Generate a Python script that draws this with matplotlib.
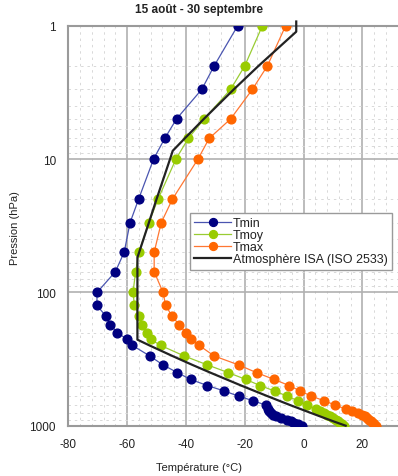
import matplotlib
matplotlib.use("Agg")
import matplotlib.pyplot as plt
from matplotlib.ticker import FixedLocator, MultipleLocator, LogLocator, NullFormatter

plt.rcParams['font.family'] = ['Liberation Sans', 'DejaVu Sans']
plt.rcParams['axes.unicode_minus'] = False

# Pressure levels (hPa)
levels = [1, 2, 3, 5, 7, 10, 20, 30, 50, 70, 100, 125, 150, 175, 200, 225, 250,
          300, 350, 400, 450, 500, 550, 600, 650, 700, 750, 775, 800, 825, 850,
          875, 900, 925, 950, 975, 1000]

# Temperatures (°C) per level
tmin = [-22.4, -30.4, -34.6, -43.2, -47.2, -51.0, -56.1, -59.0, -61.0, -64.0,
        -70.2, -70.3, -67.3, -65.8, -63.3, -60.1, -58.2, -52.3, -47.8, -42.9,
        -38.4, -32.7, -26.9, -22.1, -17.2, -12.9, -12.0, -11.6, -11.2, -10.4,
        -9.4, -7.6, -5.6, -4.3, -3.2, -1.9, -0.7]
tmoy = [-14.0, -20.0, -24.8, -33.8, -39.2, -43.4, -49.5, -52.6, -56.0, -57.1,
        -58.0, -57.5, -55.8, -54.8, -53.3, -52.0, -48.6, -40.6, -32.7, -25.6,
        -19.6, -14.8, -9.8, -5.6, -1.9, 1.2, 4.1, 5.5, 6.8, 8.0, 9.0, 10.0,
        10.9, 11.7, 12.4, 13.1, 13.8]
tmax = [-6.1, -12.3, -17.4, -24.8, -32.1, -35.9, -44.6, -48.4, -50.8, -50.8,
        -47.8, -46.9, -44.8, -42.3, -40.1, -38.4, -35.5, -30.4, -22.1, -16.0,
        -10.0, -4.9, -1.1, 2.6, 7.0, 10.7, 14.3, 16.5, 18.5, 19.8, 20.8, 21.6,
        22.4, 23.0, 23.6, 24.1, 24.5]

# International Standard Atmosphere (ISO 2533)
isa_p = [0.93, 1.109, 2, 3, 5, 7, 8.68, 10, 20, 30, 50, 54.75, 100, 150, 200,
         226.32, 250, 300, 350, 400, 500, 600, 700, 850, 925, 1000]
isa_t = [-2.5, -2.5, -15.3, -23.7, -33.9, -40.4, -44.5, -45.4, -50.0, -52.6,
         -55.9, -56.5, -56.5, -56.5, -56.5, -56.5, -52.4, -44.6, -37.8, -31.7,
         -21.2, -12.3, -4.6, 5.5, 10.0, 14.3]

x_ticks = [-80, -60, -40, -20, 0, 20]
y_ticks = [1, 10, 100, 1000]
y_tick_labels = ["1", "10", "100", "1000"]

fig = plt.figure(figsize=(3.98, 4.77), dpi=100)
ax = fig.add_axes([68.3 / 398, 1 - 426.7 / 477, 1 - 68.3 / 398, (426.7 - 26.7) / 477])

ax.set_yscale('log')
ax.set_xlim(-80, 32.1)
ax.set_ylim(1000, 1)

# Grid
ax.xaxis.set_major_locator(FixedLocator(x_ticks))
ax.xaxis.set_minor_locator(MultipleLocator(4))
ax.yaxis.set_major_locator(FixedLocator(y_ticks))
ax.yaxis.set_minor_locator(LogLocator(base=10, subs=range(2, 10)))
ax.yaxis.set_minor_formatter(NullFormatter())
ax.set_yticklabels(y_tick_labels)
ax.grid(which='major', color='#b0b0b0', linewidth=1.2)
ax.grid(which='minor', color='#d8d8d8', linewidth=0.7, linestyle=(0, (2.5, 4)))
ax.set_axisbelow(True)
ax.tick_params(which='both', length=0, labelsize=8.5, colors='#222222', pad=9)

for side in ['left', 'top', 'bottom']:
    ax.spines[side].set_color('#9a9a9a')
    ax.spines[side].set_linewidth(1.5)
ax.spines['right'].set_visible(False)

ms = 6.3
ax.plot(tmin, levels, color='#4a55b0', linewidth=0.9, marker='o', markersize=ms,
        markerfacecolor='#000080', markeredgecolor='#000080', label='Tmin', zorder=3)
ax.plot(tmoy, levels, color='#99cc33', linewidth=0.9, marker='o', markersize=ms,
        markerfacecolor='#99cc00', markeredgecolor='#99cc00', label='Tmoy', zorder=3)
ax.plot(tmax, levels, color='#ff7733', linewidth=0.9, marker='o', markersize=ms,
        markerfacecolor='#ff6600', markeredgecolor='#ff6600', label='Tmax', zorder=3)
ax.plot(isa_t, isa_p, color='#222222', linewidth=1.6,
        label='Atmosphère ISA (ISO 2533)', zorder=4, clip_on=False)

leg = ax.legend(loc='upper left', bbox_to_anchor=(190 / 398, 1 - 214 / 477),
                bbox_transform=fig.transFigure, borderaxespad=0, fontsize=9,
                frameon=True, fancybox=False, edgecolor='#9a9a9a', framealpha=1,
                handlelength=2.9, handletextpad=0.2, labelspacing=0.0,
                borderpad=0.35, markerscale=0.9)
leg.get_frame().set_linewidth(1.0)
for t in leg.get_texts():
    t.set_color('#222222')

fig.text(0.5, 1 - 10 / 477, '15 août - 30 septembre', ha='center', va='center',
         fontsize=8.5, fontweight='bold', color='#222222')
fig.text(15 / 398, 1 - 228 / 477, 'Pression (hPa)', ha='center', va='center',
         rotation=90, fontsize=8, color='#222222')
fig.text(0.5, 1 - 468 / 477, 'Température (°C)', ha='center', va='center',
         fontsize=8, color='#222222')

fig.savefig('out.png', dpi=100)
